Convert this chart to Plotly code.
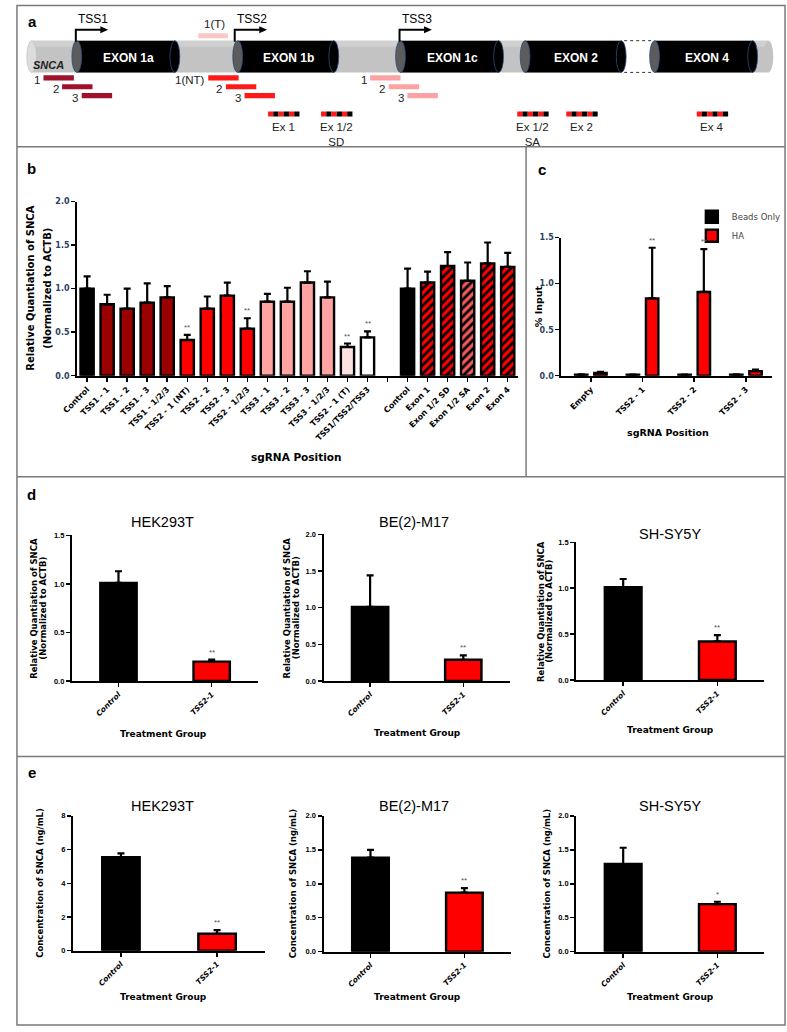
import plotly.graph_objects as go

W, H = 787, 1032

# ---------------- data ----------------
# panel a: schematic of the SNCA locus (schematic units along the gene)
exon_names = ["EXON 1a", "EXON 1b", "EXON 1c", "EXON 2", "EXON 4"]
exon_start = [58, 222, 388, 515, 647]
exon_end = [168, 330, 498, 623, 757]
tss_names = ["TSS1", "TSS2", "TSS3"]
tss_pos = [62, 224, 392]
guide_labels = ["1", "2", "3", "1(NT)", "2", "3", "1", "2", "3"]
guide_start = [29, 48, 68, 197, 215, 234, 362, 381, 400]
guide_row = [0, 1, 2, 0, 1, 2, 0, 1, 2]
guide_site = ["TSS1"] * 3 + ["TSS2"] * 3 + ["TSS3"] * 3
tgt_label = "1(T)"
tgt_start = 187
exon_guide_labels = ["Ex 1", "Ex 1/2<br>SD", "Ex 1/2<br>SA", "Ex 2", "Ex 4"]
exon_guide_start = [258, 312, 512, 562, 695]

# panel b
b_labels = ["Control", "TSS1 - 1", "TSS1 - 2", "TSS1 - 3", "TSS1 - 1/2/3",
            "TSS2 - 1 (NT)", "TSS2 - 2", "TSS2 - 3", "TSS2 - 1/2/3",
            "TSS3 - 1", "TSS3 - 2", "TSS3 - 3", "TSS3 - 1/2/3",
            "TSS2 - 1 (T)", "TSS1/TSS2/TSS3", "",
            "Control", "Exon 1", "Exon 1/2 SD", "Exon 1/2 SA", "Exon 2", "Exon 4"]
b_means = [1.00, 0.82, 0.77, 0.84, 0.90, 0.41, 0.77, 0.92, 0.54, 0.85, 0.85,
           1.07, 0.90, 0.33, 0.44, None, 1.00, 1.07, 1.26, 1.09, 1.29, 1.25]
b_errs = [0.14, 0.11, 0.23, 0.22, 0.13, 0.06, 0.14, 0.15, 0.12, 0.09, 0.16,
          0.13, 0.18, 0.04, 0.07, None, 0.23, 0.125, 0.16, 0.21, 0.24, 0.16]
b_sig = ["", "", "", "", "", "**", "", "", "**", "", "", "", "", "**", "**",
         "", "", "", "", "", "", ""]
b_group = ["ctrl", "tss1", "tss1", "tss1", "tss1", "tss2", "tss2", "tss2", "tss2",
           "tss3", "tss3", "tss3", "tss3", "tss2t", "all", "",
           "ctrl", "exon", "exon", "exon_sa", "exon", "exon"]

# panel c
c_labels = ["Empty", "TSS2 - 1", "TSS2 - 2", "TSS2 - 3"]
c_beads = [0.010, 0.010, 0.010, 0.012]
c_beads_err = [0.004, 0.003, 0.003, 0.004]
c_ha = [0.03, 0.84, 0.91, 0.05]
c_ha_err = [0.012, 0.55, 0.465, 0.016]
c_sig = ["", "**", "**", ""]

# panels d and e
cell_lines = ["HEK293T", "BE(2)-M17", "SH-SY5Y"]
treatments = ["Control", "TSS2-1"]
d_hek = [1.01, 0.20]
d_hek_err = [0.12, 0.02]
d_be = [1.01, 0.29]
d_be_err = [0.43, 0.06]
d_sh = [1.01, 0.42]
d_sh_err = [0.09, 0.07]
d_sig = ["**", "**", "**"]
e_hek = [5.55, 1.00]
e_hek_err = [0.22, 0.22]
e_be = [1.385, 0.87]
e_be_err = [0.115, 0.065]
e_sh = [1.29, 0.70]
e_sh_err = [0.24, 0.035]
e_sig = ["**", "**", "*"]

# ---------------- styling ----------------
AXF = "DejaVu Sans"
ARIAL = "Liberation Sans, Arial"
group_color = {"ctrl": "#000000", "tss1": "#990000", "tss2": "#ff0000",
               "tss3": "#ffa3a3", "tss2t": "#fde0e0", "all": "#ffffff",
               "exon": "#ff0000", "exon_sa": "#f25a5a"}
site_color = {"TSS1": "#a0112b", "TSS2": "#ff1a1a", "TSS3": "#fba3a3"}


def fx(p):
    return p / W


def fy(p):
    return 1 - p / H


fig = go.Figure()
layout = dict(width=W, height=H, margin=dict(l=0, r=0, t=0, b=0),
              paper_bgcolor="white", plot_bgcolor="rgba(0,0,0,0)",
              barmode="overlay", showlegend=True, hovermode=False)
shapes = []
annots = []


def txt(x, y, text, size=11, color="black", family=ARIAL, xref="paper", yref="paper",
        xanchor="center", yanchor="middle", angle=0, weight="normal", style="normal", **kw):
    annots.append(dict(x=x, y=y, xref=xref, yref=yref, text=text, showarrow=False,
                       xanchor=xanchor, yanchor=yanchor, textangle=angle,
                       font=dict(family=family, size=size, color=color, weight=weight, style=style),
                       **kw))


def axes(i, xl, xr, yt, yb, xrange, yrange, tickvals, ticktext, xfont, yfont, ydtick, yfmt):
    xs = "xaxis" if i == 1 else f"xaxis{i}"
    ys = "yaxis" if i == 1 else f"yaxis{i}"
    common = dict(showline=True, linewidth=2, linecolor="black", ticks="outside",
                  ticklen=4, tickwidth=1.5, tickcolor="black", showgrid=False,
                  zeroline=False, fixedrange=True)
    layout[xs] = dict(domain=[fx(xl), fx(xr)], anchor=f"y{i}", range=xrange,
                      tickmode="array", tickvals=tickvals, ticktext=ticktext,
                      tickangle=-45, tickfont=xfont, **common)
    layout[ys] = dict(domain=[fy(yb), fy(yt)], anchor=f"x{i}", range=yrange,
                      dtick=ydtick, tick0=0, tickformat=yfmt, tickfont=yfont, **common)


# ---------------- panel a ----------------
layout["xaxis"] = dict(domain=[0, 1], range=[0, W], visible=False, fixedrange=True)
layout["yaxis"] = dict(domain=[fy(145), 1], range=[145, 0], visible=False, fixedrange=True)
fig.add_trace(go.Scatter(x=[0], y=[0], mode="markers", marker=dict(opacity=0),
                         showlegend=False, hoverinfo="skip", xaxis="x", yaxis="y"))
A = dict(xref="x", yref="y")
GT, GB = 37, 69
shapes.append(dict(type="rect", x0=17, x1=768, y0=GT, y1=GB, fillcolor="#c3c3c3", line_width=0, **A))
shapes.append(dict(type="rect", x0=17, x1=768, y0=GT, y1=GT + 6, fillcolor="#d0d0d0", line_width=0, **A))
shapes.append(dict(type="circle", x0=12, x1=22, y0=GT, y1=GB, fillcolor="#dcdcdc",
                   line=dict(color="#b5b5b5", width=0.5), **A))
shapes.append(dict(type="circle", x0=763, x1=773, y0=GT, y1=GB, fillcolor="#c3c3c3", line_width=0, **A))
# gap (exon 3 omitted)
shapes.append(dict(type="rect", x0=exon_end[3] - 5, x1=exon_start[4] + 5, y0=GT - 1, y1=GB + 1,
                   fillcolor="white", line_width=0, **A))
for yy in (GT, GB):
    shapes.append(dict(type="line", x0=exon_end[3] - 2, x1=exon_start[4] + 3, y0=yy, y1=yy,
                       line=dict(color="#333", width=1, dash="dot"), **A))
for name, s, e in zip(exon_names, exon_start, exon_end):
    shapes.append(dict(type="rect", x0=s + 5, x1=e - 5, y0=GT, y1=GB, fillcolor="black", line_width=0, **A))
    shapes.append(dict(type="circle", x0=e - 10, x1=e, y0=GT, y1=GB, fillcolor="black",
                       line=dict(color="#2a4d7a", width=0.8), **A))
    shapes.append(dict(type="circle", x0=s, x1=s + 10, y0=GT, y1=GB, fillcolor="#5c5c5c",
                       line=dict(color="#2a4d7a", width=0.8), **A))
    txt((s + e) / 2 + 3, (GT + GB) / 2 + 1, name, size=12, color="white", weight="bold", **A)
txt(34, 62, "SNCA", size=11, color="#222", weight="bold", style="italic", **A)
for name, p in zip(tss_names, tss_pos):
    shapes.append(dict(type="path", path=f"M {p},{GT + 1} L {p},26 L {p + 27},26",
                       line=dict(color="black", width=2), **A))
    shapes.append(dict(type="path", path=f"M {p + 25},22.5 L {p + 33},26 L {p + 25},29.5 Z",
                       fillcolor="black", line_width=0, **A))
    txt(p + 18, 15, name, size=12, **A)
row_y = [74.5, 83.5, 92.5]
for lab, st, r, site in zip(guide_labels, guide_start, guide_row, guide_site):
    shapes.append(dict(type="rect", x0=st, x1=st + 31, y0=row_y[r] - 2.6, y1=row_y[r] + 2.6,
                       fillcolor=site_color[site], line_width=0, **A))
    txt(st - 1.5, row_y[r] + 2, lab, size=11.5, xanchor="right", color="#222", **A)
shapes.append(dict(type="rect", x0=tgt_start, x1=tgt_start + 30, y0=29.5, y1=34.5,
                   fillcolor="#fbc6c6", line_width=0, **A))
txt(tgt_start + 16, 20, tgt_label, size=11.5, color="#222", **A)
for lab, st in zip(exon_guide_labels, exon_guide_start):
    seg = 32 / 6
    for k in range(6):
        shapes.append(dict(type="rect", x0=st + k * seg, x1=st + (k + 1) * seg, y0=108.5, y1=113.5,
                           fillcolor="#ff1a1a" if k % 2 == 0 else "black", line_width=0, **A))
    txt(st + 16, 116, lab, size=11.5, yanchor="top", color="#222", **A)

# ---------------- panel b ----------------
tickf = dict(family=AXF, size=8, weight="bold", color="black")
axes(2, 63.3, 512.5, 199.3, 375, [-0.5, len(b_labels) - 0.5], [0, 2],
     list(range(len(b_labels))), b_labels, tickf, dict(family=AXF, size=8, weight="bold"), 0.5, ".1f")
err_style = dict(type="data", symmetric=False, color="black", thickness=2.2, width=3.5)
solid = [i for i, g in enumerate(b_group) if g and not g.startswith("exon")]
fig.add_trace(go.Bar(
    x=solid, y=[b_means[i] for i in solid], width=0.66, xaxis="x2", yaxis="y2",
    marker=dict(color=[group_color[b_group[i]] for i in solid], line=dict(color="black", width=2.4)),
    error_y=dict(array=[b_errs[i] for i in solid], arrayminus=[0] * len(solid), **err_style),
    showlegend=False, hoverinfo="skip"))
for grp in ("exon", "exon_sa"):
    idx = [i for i, g in enumerate(b_group) if g == grp]
    col = group_color[grp]
    fig.add_trace(go.Bar(
        x=idx, y=[b_means[i] for i in idx], width=0.66, xaxis="x2", yaxis="y2",
        marker=dict(color=col, line=dict(color="black", width=2.4),
                    pattern=dict(shape="/", fgcolor="#000000", bgcolor=col, fgopacity=1,
                                 size=6, solidity=0.45, fillmode="replace")),
        error_y=dict(array=[b_errs[i] for i in idx], arrayminus=[0] * len(idx), **err_style),
        showlegend=False, hoverinfo="skip"))
for i, s in enumerate(b_sig):
    if s:
        txt(i, b_means[i] + b_errs[i], s, size=8, color="#555", xref="x2", yref="y2",
            yanchor="bottom", yshift=1)
txt(fx(15.5), fy(287), "Relative Quantiation of SNCA", size=10, family=AXF, weight="bold", angle=-90)
txt(fx(33), fy(287), "(Normalized to ACTB)", size=10, family=AXF, weight="bold", angle=-90)
txt(fx(287), fy(457), "sgRNA Position", size=10.5, family=AXF, weight="bold")

# ---------------- panel c ----------------
axes(3, 557, 772, 235.7, 375, [-0.57, 3.51], [0, 1.5], list(range(4)), c_labels,
     tickf, dict(family=AXF, size=8, weight="bold"), 0.5, ".1f")
cx = list(range(len(c_labels)))
fig.add_trace(go.Bar(x=cx, y=c_beads, width=0.24, offset=-0.306, xaxis="x3", yaxis="y3",
                     name="Beads Only", marker=dict(color="black", line=dict(color="black", width=2.4)),
                     error_y=dict(array=c_beads_err, arrayminus=[0] * 4, **err_style), hoverinfo="skip"))
fig.add_trace(go.Bar(x=cx, y=c_ha, width=0.24, offset=0.066, xaxis="x3", yaxis="y3",
                     name="HA", marker=dict(color="#ff0000", line=dict(color="black", width=2.4)),
                     error_y=dict(array=c_ha_err, arrayminus=[0] * 4, **err_style), hoverinfo="skip"))
for i, s in enumerate(c_sig):
    if s:
        txt(i + 0.186, c_ha[i] + c_ha_err[i], s, size=8, color="#555", xref="x3", yref="y3",
            yanchor="bottom", yshift=1)
txt(fx(533), fy(305), "% Input", size=9.5, family=AXF, weight="bold", angle=-90)
txt(fx(666), fy(432), "sgRNA Position", size=9.5, family=AXF, weight="bold")
layout["legend"] = dict(x=fx(690), y=fy(200), xanchor="left", yanchor="top",
                        font=dict(family=AXF, size=8.5, color="#444"), bgcolor="rgba(0,0,0,0)",
                        tracegroupgap=0, itemwidth=30)

# ---------------- panels d and e ----------------
small_x = dict(family=AXF, size=7.5, weight="bold", style="italic", color="black")
small_y = dict(family=ARIAL, size=7.5, weight="bold", color="black")
d_sets = [(d_hek, d_hek_err), (d_be, d_be_err), (d_sh, d_sh_err)]
e_sets = [(e_hek, e_hek_err), (e_be, e_be_err), (e_sh, e_sh_err)]
d_geom = [(58, 248, 536, 683, 1.5), (314.5, 504.5, 535, 683, 2.0), (572, 764, 543, 682, 1.5)]
e_geom = [(59, 255, 819, 955, 8), (314.5, 506, 819, 956, 2.0), (572, 764, 819, 956, 2.0)]
d_title_y = [523, 523, 535]
title_x = [150, 407, 668]
xt_x = [151, 410, 668]
d_xt_y = [736, 735, 732]
ax_left = [57, 314, 573]

for k in range(3):
    for panel, sets, geom, sig in (("d", d_sets, d_geom, d_sig), ("e", e_sets, e_geom, e_sig)):
        i = 4 + k if panel == "d" else 7 + k
        xl, xr, yt, yb, top = geom[k]
        dt = 2 if top == 8 else 0.5
        fmt = "d" if top == 8 else ".1f"
        axes(i, xl, xr, yt, yb, [-0.5, 1.5], [0, top], [0, 1], treatments, small_x, small_y, dt, fmt)
        m, er = sets[k]
        fig.add_trace(go.Bar(x=[0, 1], y=m, width=0.39, xaxis=f"x{i}", yaxis=f"y{i}",
                             marker=dict(color=["black", "#ff0000"], line=dict(color="black", width=2.4)),
                             error_y=dict(array=er, arrayminus=[0, 0], **err_style),
                             showlegend=False, hoverinfo="skip"))
        txt(1, m[1] + er[1], sig[k], size=8, color="#555", xref=f"x{i}", yref=f"y{i}",
            yanchor="bottom", yshift=1)
        a = ax_left[k]
        if panel == "d":
            txt(fx(title_x[k]), fy(d_title_y[k]), cell_lines[k], size=14.5)
            txt(fx(a - 37), fy((yt + yb) / 2), "Relative Quantiation of SNCA", size=8.5,
                family=AXF, weight="bold", angle=-90)
            txt(fx(a - 28), fy((yt + yb) / 2), "(Normalized to ACTB)", size=8.5,
                family=AXF, weight="bold", angle=-90)
            txt(fx(xt_x[k]), fy(d_xt_y[k]), "Treatment Group", size=9, family=AXF, weight="bold")
        else:
            txt(fx(title_x[k]), fy(809), cell_lines[k], size=14.5)
            txt(fx(a - 31), fy((yt + yb) / 2), "Concentration of SNCA (ng/mL)", size=8.5,
                family=AXF, weight="bold", angle=-90)
            txt(fx(xt_x[k]), fy(1002), "Treatment Group", size=9, family=AXF, weight="bold")

# ---------------- panel frames and letters ----------------
P = dict(xref="paper", yref="paper")
frame = dict(color="#7a7a7a", width=1.5)
shapes.append(dict(type="rect", x0=fx(2), x1=fx(785), y0=fy(1030), y1=fy(1.5), line=frame, **P))
for yy in (144, 477, 759):
    shapes.append(dict(type="line", x0=fx(2), x1=fx(785), y0=fy(yy), y1=fy(yy), line=frame, **P))
shapes.append(dict(type="line", x0=fx(521), x1=fx(521), y0=fy(477), y1=fy(144), line=frame, **P))
for letter, (lx, ly) in zip("abcde", [(18, 18), (17, 166), (537, 167), (17, 495), (17, 775)]):
    txt(fx(lx), fy(ly), letter, size=15, weight="bold")

layout["shapes"] = shapes
layout["annotations"] = annots
fig.update_layout(**layout)
fig.write_html("out.html", config={"displayModeBar": False, "staticPlot": True},
               post_script="document.body.style.margin='0';document.body.style.overflow='hidden';")
